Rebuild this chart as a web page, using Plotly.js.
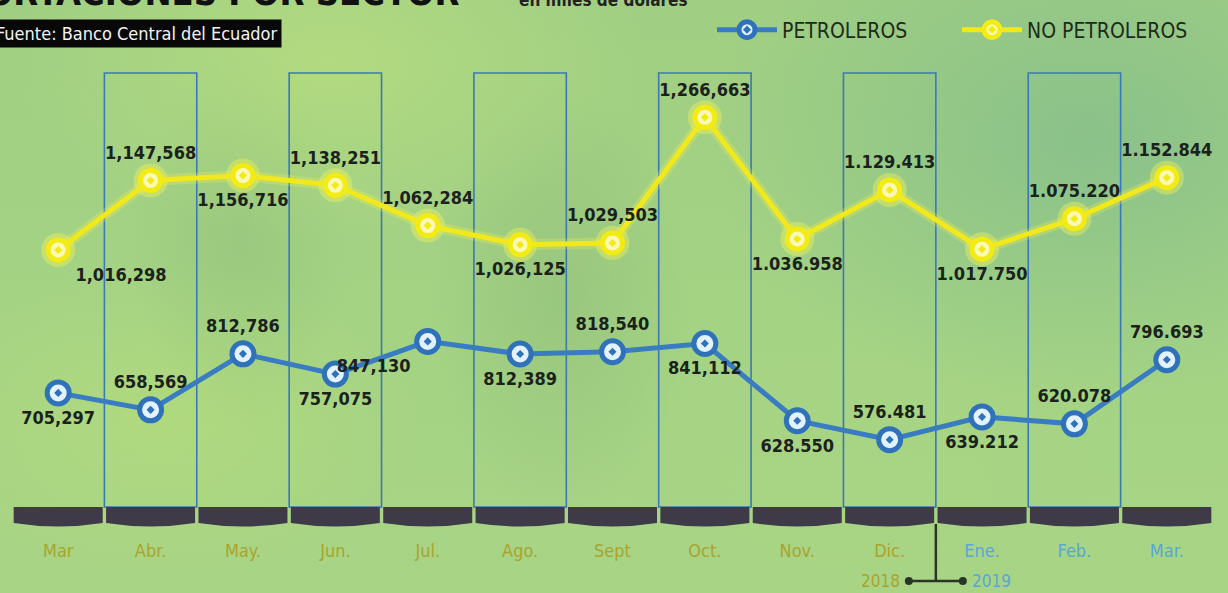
<!DOCTYPE html>
<html>
<head>
<meta charset="utf-8">
<script src="https://cdn.plot.ly/plotly-3.0.1.min.js"></script>
<style>
  html, body { margin: 0; padding: 0; }
  #chart {
    width: 1228px; height: 593px; overflow: hidden;
    background:
      radial-gradient(ellipse 380px 260px at 1090px 140px, rgba(115,178,145,0.5), rgba(115,178,145,0) 100%),
      radial-gradient(ellipse 320px 180px at 330px 60px, rgba(195,228,125,0.5), rgba(195,228,125,0) 100%),
      radial-gradient(ellipse 130px 220px at 560px 300px, rgba(110,155,105,0.22), rgba(110,155,105,0) 100%),
      radial-gradient(ellipse 110px 190px at 240px 240px, rgba(115,160,105,0.18), rgba(115,160,105,0) 100%),
      radial-gradient(ellipse 260px 160px at 160px 420px, rgba(190,225,120,0.45), rgba(190,225,120,0) 100%),
      radial-gradient(ellipse 260px 160px at 860px 470px, rgba(170,215,130,0.45), rgba(170,215,130,0) 100%),
      linear-gradient(180deg, #a0cf83 0%, #a4d384 55%, #a8d485 100%);
  }
</style>
</head>
<body>
<div id="chart"></div>
<script>
// ---- Data ----
const months = ['Mar', 'Abr.', 'May.', 'Jun.', 'Jul.', 'Ago.', 'Sept', 'Oct.', 'Nov.', 'Dic.', 'Ene.', 'Feb.', 'Mar.'];
const monthYears = [2018, 2018, 2018, 2018, 2018, 2018, 2018, 2018, 2018, 2018, 2019, 2019, 2019];
const petroleros = [705297, 658569, 812786, 757075, 847130, 812389, 818540, 841112, 628550, 576481, 639212, 620078, 796693];
const petrolerosLabels = ['705,297', '658,569', '812,786', '757,075', '847,130', '812,389', '818,540', '841,112', '628.550', '576.481', '639.212', '620.078', '796.693'];
const noPetroleros = [1016298, 1147568, 1156716, 1138251, 1062284, 1026125, 1029503, 1266663, 1036958, 1129413, 1017750, 1075220, 1152844];
const noPetrolerosLabels = ['1,016,298', '1,147,568', '1,156,716', '1,138,251', '1,062,284', '1,026,125', '1,029,503', '1,266,663', '1.036.958', '1.129.413', '1.017.750', '1.075.220', '1.152.844'];
const seriesNames = ['PETROLEROS', 'NO PETROLEROS'];

// ---- Style ----
const COND = '"DejaVu Sans Condensed", "Liberation Sans Narrow", "Roboto Condensed", sans-serif';
const OLIVE = '#a9a42e';
const BLUE19 = '#5aa6d8';
const BLUE = '#3a7cc2';
const YELLOW = '#f1e91c';
const posP = ['bottom center', 'top center', 'top center', 'bottom center', 'bottom left', 'bottom center', 'top center', 'bottom center', 'bottom center', 'top center', 'bottom center', 'top center', 'top center'];
const posN = ['bottom right', 'top center', 'bottom center', 'top center', 'top center', 'bottom center', 'top center', 'top center', 'bottom center', 'top center', 'bottom center', 'top center', 'top center'];
const labelFont = { family: COND, size: 18, color: '#1b211b', weight: 'bold' };
const ghost = { size: 26, color: 'rgba(0,0,0,0)', line: { width: 0 } };

const traces = [
  // yellow glow
  { x: months, y: noPetroleros, yaxis: 'y2', mode: 'lines+markers', showlegend: false, hoverinfo: 'skip',
    line: { color: 'rgba(250,245,70,0.25)', width: 11 },
    marker: { size: 34, color: 'rgba(252,248,80,0.38)' } },
  { x: months, y: petroleros, yaxis: 'y', mode: 'lines+markers', name: seriesNames[0], hoverinfo: 'skip',
    line: { color: BLUE, width: 5 },
    marker: { symbol: 'circle-dot', size: 22, color: '#e2f2ff', line: { color: '#2f72ba', width: 5 } } },
  { x: months, y: noPetroleros, yaxis: 'y2', mode: 'lines+markers', name: seriesNames[1], hoverinfo: 'skip',
    line: { color: YELLOW, width: 5 },
    marker: { symbol: 'circle-dot', size: 20, color: '#fbf9b8', line: { color: '#f3eb14', width: 5 } } },
  { x: months, y: noPetroleros, yaxis: 'y2', mode: 'markers+text', showlegend: false, hoverinfo: 'skip',
    text: noPetrolerosLabels, textposition: posN, textfont: labelFont, marker: ghost },
  { x: months, y: petroleros, yaxis: 'y', mode: 'markers+text', showlegend: false, hoverinfo: 'skip',
    text: petrolerosLabels, textposition: posP, textfont: labelFont, marker: ghost }
];

// ---- Decorative shapes ----
const n = months.length;
const H = 467, TOP = 60, PW = 1201;
const py = p => (527 - p) / H; // pixel -> paper y
const px = p => (p - 12) / PW; // pixel -> paper x
const shapes = [];
for (let i = 1; i < n; i += 2) {
  shapes.push({ type: 'rect', xref: 'x', yref: 'paper', x0: i - 0.5, x1: i + 0.5, y0: py(507), y1: py(73),
    line: { color: '#3b78b6', width: 1.6 }, fillcolor: 'rgba(0,0,0,0)', layer: 'below' });
}
for (let i = 0; i < n; i++) {
  const g = 0.0014;
  const xl = i / n + g, xr = (i + 1) / n - g, xm = (i + 0.5) / n;
  const yt = py(507), ye = py(523), yb = py(530);
  shapes.push({ type: 'path', xref: 'paper', yref: 'paper',
    path: `M${xl},${yt} L${xr},${yt} L${xr},${ye} Q${xm},${yb} ${xl},${ye} Z`,
    fillcolor: '#3e3a47', line: { width: 0 }, layer: 'above' });
}
// year divider
const xd = 10 / n;
shapes.push({ type: 'line', xref: 'paper', yref: 'paper', x0: xd, x1: xd, y0: py(524), y1: py(581), line: { color: '#2a3526', width: 2.5 } });
shapes.push({ type: 'line', xref: 'paper', yref: 'paper', x0: xd - 26 / PW, x1: xd + 26 / PW, y0: py(581), y1: py(581), line: { color: '#2a3526', width: 2.5 } });
[-1, 1].forEach(s => {
  const cx = xd + s * 27 / PW;
  shapes.push({ type: 'circle', xref: 'paper', yref: 'paper', x0: cx - 4 / PW, x1: cx + 4 / PW, y0: py(585), y1: py(577),
    fillcolor: '#2a3526', line: { width: 0 } });
});

const ticktext = months.map((m, i) => monthYears[i] === 2019 ? `<span style="color:${BLUE19}">${m}</span>` : m);

const annotations = [
  { text: '<b>EXPORTACIONES POR SECTOR</b>', xref: 'paper', yref: 'paper', x: px(462), xanchor: 'right',
    y: py(-8), yanchor: 'middle', showarrow: false, font: { family: COND, size: 36, color: '#111' } },
  { text: '<b>en miles de dólares</b>', xref: 'paper', yref: 'paper', x: px(690), xanchor: 'right',
    y: py(0), yanchor: 'middle', showarrow: false, font: { family: COND, size: 17, color: '#222' } },
  { text: 'Fuente: Banco Central del Ecuador', xref: 'paper', yref: 'paper', x: px(282), xanchor: 'right',
    y: py(33.5), yanchor: 'middle', showarrow: false, bgcolor: '#080808', borderpad: 3,
    font: { family: COND, size: 18, color: '#f4f4f4' } },
  { text: String(monthYears[9]), xref: 'paper', yref: 'paper', x: xd - 34 / PW, xanchor: 'right', y: py(581), yanchor: 'middle',
    showarrow: false, font: { family: COND, size: 17, color: OLIVE } },
  { text: String(monthYears[10]), xref: 'paper', yref: 'paper', x: xd + 34 / PW, xanchor: 'left', y: py(581), yanchor: 'middle',
    showarrow: false, font: { family: COND, size: 17, color: BLUE19 } }
];

const layout = {
  width: 1228, height: 593,
  margin: { l: 12, r: 15, t: TOP, b: 66, autoexpand: false },
  paper_bgcolor: 'rgba(0,0,0,0)', plot_bgcolor: 'rgba(0,0,0,0)',
  showlegend: true,
  legend: { orientation: 'h', x: px(712), xanchor: 'left', y: py(30), yanchor: 'middle',
    bgcolor: 'rgba(0,0,0,0)', font: { family: COND, size: 21, color: '#1e2a1a' },
    itemwidth: 60, entrywidth: 170, entrywidthmode: 'pixels', traceorder: 'normal' },
  xaxis: { type: 'category', range: [-0.5, n - 0.5], showgrid: false, zeroline: false, showline: false,
    tickmode: 'array', tickvals: months, ticktext: ticktext, ticks: '', ticklabelstandoff: 11,
    tickfont: { family: COND, size: 18, color: OLIVE }, fixedrange: true },
  yaxis: { range: [336000, 1622000], visible: false, fixedrange: true },
  yaxis2: { range: [493000, 1375000], visible: false, overlaying: 'y', fixedrange: true },
  shapes: shapes,
  annotations: annotations,
  hovermode: false
};

Plotly.newPlot('chart', traces, layout, { staticPlot: true, displayModeBar: false });
</script>
</body>
</html>
